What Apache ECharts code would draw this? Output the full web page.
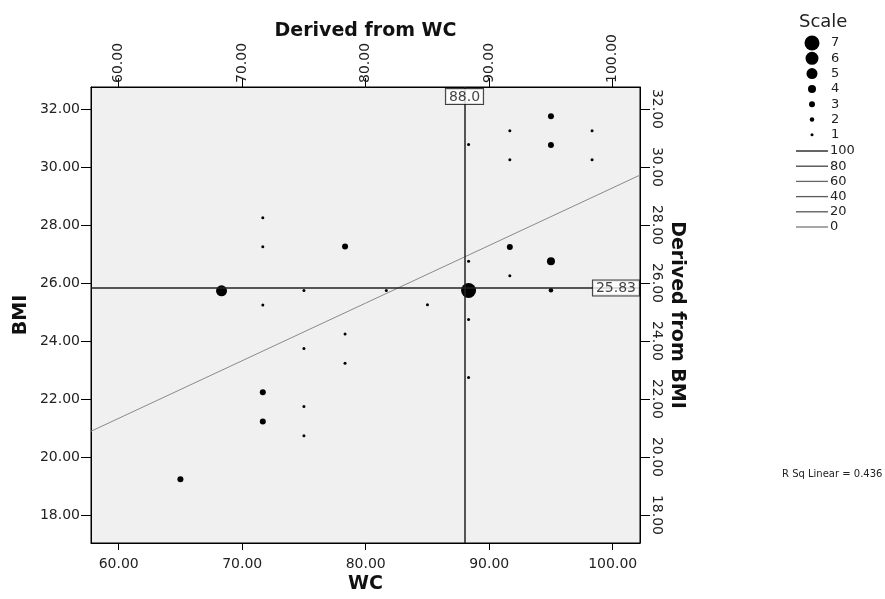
<!DOCTYPE html>
<html><head><meta charset="utf-8">
<script src="https://cdn.jsdelivr.net/npm/echarts@6/dist/echarts.min.js"></script>
<style>html,body{margin:0;padding:0;background:#fff}#c{width:885px;height:599px}</style>
</head><body><div id="c"></div>
<script>
// ---- data ----
const wcValues  = [65, 68.33, 71.67, 71.67, 71.67, 71.67, 71.67, 75, 75, 75, 75, 78.33, 78.33, 78.33, 81.67, 85,
                   88.33, 88.33, 88.33, 88.33, 88.33, 91.67, 91.67, 91.67, 91.67, 95, 95, 95, 95, 98.33, 98.33];
const bmiValues = [19.23, 25.73, 28.25, 27.25, 25.24, 22.23, 21.22, 25.74, 23.74, 21.74, 20.73, 27.26, 24.24, 23.23, 25.74, 25.25,
                   30.77, 26.75, 25.74, 24.74, 22.74, 31.25, 30.25, 27.24, 26.25, 31.75, 30.76, 26.75, 25.75, 31.25, 30.25];
const pointCounts = [3, 5, 1, 1, 1, 3, 3, 1, 1, 1, 1, 3, 1, 1, 1, 1,
                     1, 1, 7, 1, 1, 1, 1, 3, 1, 3, 3, 4, 2, 1, 1];
const xTicks = [60, 70, 80, 90, 100];
const yTicks = [18, 20, 22, 24, 26, 28, 30, 32];
const xRange = [57.76, 102.21];
const yRange = [17.034, 32.756];
const refWC = 88.0;
const refBMI = 25.83;
const fitIntercept = 9.41;
const fitSlope = 0.1987;
const rSqText = 'R Sq Linear = 0.436';
const scaleCounts = [7, 6, 5, 4, 3, 2, 1];
const scaleSizes  = [15, 13, 11, 8, 6, 4.5, 3];
const lineScaleLabels = ['100', '80', '60', '40', '20', '0'];
const lineScaleColors = ['#111', '#444', '#666', '#5a5a5a', '#555', '#777'];

// ---- build ----
const FONT = 'DejaVu Sans';
const sizeFor = c => scaleSizes[scaleCounts.indexOf(c)];
const fit = x => fitIntercept + fitSlope * x;
const pts = wcValues.map((x, i) => [x, bmiValues[i], pointCounts[i]]);

const labelStyle = {fontFamily: FONT, fontSize: 14, color: '#222'};
const nameStyle = {fontFamily: FONT, fontSize: 19, fontWeight: 'bold', color: '#111'};
const axisLine = {show: true, onZero: false, lineStyle: {color: '#000', width: 1}};

function xAx(pos, name, gap, rot, margin, tickLen) {
  return {
    type: 'value', position: pos, min: xRange[0], max: xRange[1],
    name: name, nameLocation: 'middle', nameGap: gap, nameTextStyle: nameStyle, nameMoveOverlap: false,
    axisLine: axisLine,
    axisTick: {show: true, length: tickLen, customValues: xTicks, lineStyle: {color: '#000'}},
    axisLabel: Object.assign({customValues: xTicks, rotate: rot, margin: margin,
      formatter: v => v.toFixed(2)}, labelStyle),
    splitLine: {show: false}
  };
}
function yAx(pos, name, gap, rot, nameRot, margin, tickLen) {
  return {
    type: 'value', position: pos, min: yRange[0], max: yRange[1],
    name: name, nameLocation: 'middle', nameGap: gap, nameRotate: nameRot, nameTextStyle: nameStyle, nameMoveOverlap: false,
    axisLine: axisLine,
    axisTick: {show: true, length: tickLen, customValues: yTicks, lineStyle: {color: '#000'}},
    axisLabel: Object.assign({customValues: yTicks, rotate: rot, margin: margin,
      formatter: v => v.toFixed(2)}, labelStyle),
    splitLine: {show: false}
  };
}

const graphics = [];
graphics.push({type: 'text', left: 799, top: 13, style: {text: 'Scale', fontFamily: FONT, fontSize: 18, fill: '#222'}});
scaleCounts.forEach((c, i) => {
  const y = 43 + i * 15.3;
  graphics.push({type: 'circle', shape: {cx: 812, cy: y, r: scaleSizes[i] / 2}, style: {fill: '#000'}});
  graphics.push({type: 'text', x: 831, y: y, style: {text: String(c), fontFamily: FONT, fontSize: 13, fill: '#222', textVerticalAlign: 'middle'}});
});
lineScaleLabels.forEach((t, i) => {
  const y = 151 + i * 15.2;
  graphics.push({type: 'line', shape: {x1: 796, y1: y, x2: 828, y2: y}, style: {stroke: lineScaleColors[i], lineWidth: 1.3}});
  graphics.push({type: 'text', x: 830, y: y, style: {text: t, fontFamily: FONT, fontSize: 13, fill: '#222', textVerticalAlign: 'middle'}});
});
graphics.push({type: 'text', x: 782, y: 474, style: {text: rSqText, fontFamily: FONT, fontSize: 10, fill: '#222', textVerticalAlign: 'middle'}});

const boxLabel = {show: true, fontFamily: FONT, fontSize: 14, color: '#111', backgroundColor: '#fff',
  borderColor: '#111', borderWidth: 1, padding: [1, 3, 0, 3]};

const chart = echarts.init(document.getElementById('c'), null, {renderer: 'canvas'});
chart.setOption({
  animation: false,
  backgroundColor: '#fff',
  grid: {left: 91, right: 245, top: 87, bottom: 48, show: true, backgroundColor: '#f0f0f0',
         borderColor: '#000', borderWidth: 1},
  xAxis: [xAx('bottom', 'WC', 32, 0, 14, 7), xAx('top', 'Derived from WC', 46, -90, 4, 9)],
  yAxis: [yAx('left', 'BMI', 60, 0, 90, 11, 10), yAx('right', 'Derived from BMI', 27, -90, -90, 10, 10)],
  graphic: graphics,
  series: [
    {
      type: 'line', name: 'fit', xAxisIndex: 0, yAxisIndex: 0, symbol: 'none', silent: true,
      data: [[xRange[0], fit(xRange[0])], [xRange[1], fit(xRange[1])]],
      lineStyle: {color: '#8a8a8a', width: 1}, z: 2,
      markLine: {
        silent: true, symbol: 'none', label: {show: false},
        lineStyle: {color: '#222', width: 1.5, type: 'solid'},
        data: [{xAxis: refWC}, {yAxis: refBMI}]
      }
    },
    {
      type: 'scatter', name: 'points', xAxisIndex: 0, yAxisIndex: 0, data: pts,
      symbol: 'circle', symbolSize: d => sizeFor(d[2]),
      itemStyle: {color: '#000', opacity: 1}, z: 4
    },
    {
      type: 'scatter', xAxisIndex: 0, yAxisIndex: 0, symbolSize: 0, clip: false, z: 5, silent: true,
      data: [[refWC, yRange[1]]],
      label: Object.assign({position: 'bottom', distance: 2, formatter: refWC.toFixed(1)}, boxLabel)
    },
    {
      type: 'scatter', xAxisIndex: 0, yAxisIndex: 0, symbolSize: 0, clip: false, z: 5, silent: true,
      data: [[xRange[1], refBMI]],
      label: Object.assign({position: 'left', distance: 1, formatter: refBMI.toFixed(2)}, boxLabel)
    }
  ]
});
</script>
</body></html>
